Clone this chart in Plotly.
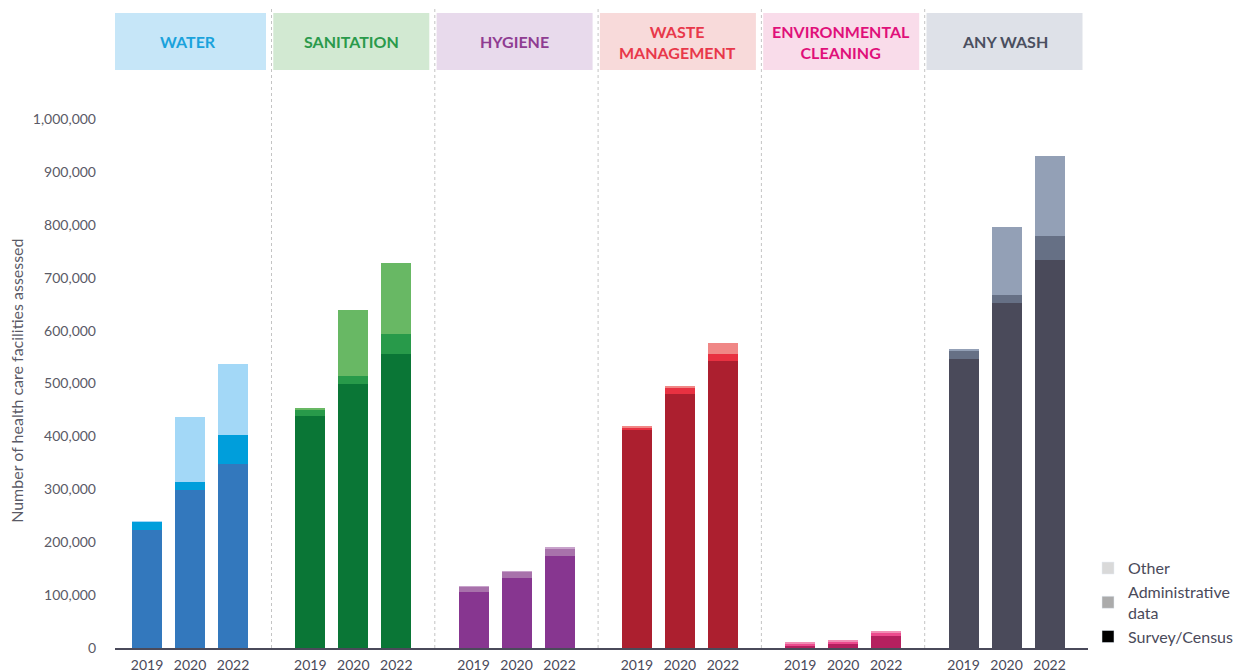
import plotly.graph_objects as go

categories = ["WATER", "SANITATION", "HYGIENE", "WASTE<br>MANAGEMENT", "ENVIRONMENTAL<br>CLEANING", "ANY WASH"]
years = ["2019", "2020", "2022"]

# values in number of facilities (segments, stacked bottom -> top)
survey = [
    [223000, 299000, 348000],
    [439000, 499000, 556000],
    [105000, 132000, 173000],
    [412000, 480000, 542000],
    [4000, 8000, 23000],
    [546000, 652000, 733000],
]
admin = [
    [16000, 15000, 55000],
    [11000, 15000, 38000],
    [11000, 12000, 14000],
    [5000, 11000, 14000],
    [4000, 5000, 7000],
    [17000, 15000, 45000],
]
other = [
    [1000, 123000, 134000],
    [2000, 125000, 134000],
    [1000, 1000, 4000],
    [3000, 4000, 21000],
    [2000, 2000, 2000],
    [1000, 128000, 153000],
]

y_ticks = [0, 100000, 200000, 300000, 400000, 500000, 600000, 700000, 800000, 900000, 1000000]

survey_colors = ["#3378BD", "#0A7636", "#873690", "#AC1F2F", "#B5205F", "#4A4A5A"]
admin_colors = ["#009EDB", "#289A4A", "#A872AB", "#E83141", "#EC4B8E", "#667085"]
other_colors = ["#A3D8F7", "#68B864", "#C8A2CB", "#F08786", "#F18EB5", "#93A0B6"]
header_fill = ["#C6E6F8", "#D2E9D2", "#E8DAEC", "#F8DADA", "#F9DCEA", "#DEE1E8"]
header_text = ["#1AA2DC", "#2A9A4B", "#8F3C92", "#E8384A", "#E0107A", "#4A4F5F"]

GS = 163.3   # group spacing
YS = 43      # year spacing
BW = 30      # bar width

xs, s_vals, a_vals, o_vals, sc, ac, oc = [], [], [], [], [], [], []
tickvals, ticktext = [], []
for g in range(len(categories)):
    for j, yr in enumerate(years):
        x = g * GS + (j - 1) * YS
        xs.append(x)
        s_vals.append(survey[g][j]); a_vals.append(admin[g][j]); o_vals.append(other[g][j])
        sc.append(survey_colors[g]); ac.append(admin_colors[g]); oc.append(other_colors[g])
        tickvals.append(x); ticktext.append(yr)

fig = go.Figure()
for vals, cols in [(s_vals, sc), (a_vals, ac), (o_vals, oc)]:
    fig.add_trace(go.Bar(x=xs, y=vals, width=BW, marker=dict(color=cols, line=dict(width=0)),
                         showlegend=False, hoverinfo="skip"))

# legend proxies
for name, col in [("Other", "#D9D9D9"), ("Administrative<br>data", "#ABABAB"), ("Survey/Census", "#000000")]:
    fig.add_trace(go.Bar(x=[None], y=[None], name=name, marker=dict(color=col), showlegend=True))

shapes = []
annotations = []
for g in range(len(categories)):
    c = g * GS - 2
    shapes.append(dict(type="rect", xref="x", yref="paper", x0=c - 78, x1=c + 78,
                       y0=1.0926, y1=1.2004, fillcolor=header_fill[g], line=dict(width=0), layer="below"))
    annotations.append(dict(x=c, y=1.1465, xref="x", yref="paper", text="<b>" + categories[g] + "</b>",
                            showarrow=False, font=dict(size=16, color=header_text[g], family="Lato"),
                            align="center", xanchor="center", yanchor="middle"))
    if g < len(categories) - 1:
        sx = g * GS + 81.5
        shapes.append(dict(type="line", xref="x", yref="paper", x0=sx, x1=sx, y0=0, y1=1.225,
                           line=dict(color="#C4C4C4", width=1, dash="dot"), layer="below"))

annotations.append(dict(x=-0.1007, y=0.505, xref="paper", yref="paper",
                        text="Number of health care facilities assessed", textangle=-90,
                        showarrow=False, font=dict(size=16, color="#5A5A66", family="Lato"),
                        xanchor="center", yanchor="middle"))

fig.update_layout(
    width=1239, height=664,
    margin=dict(l=107, r=159, t=111, b=24, autoexpand=False),
    paper_bgcolor="white", plot_bgcolor="white",
    barmode="stack",
    font=dict(family="Lato", color="#4A4A5A"),
    shapes=shapes, annotations=annotations,
    legend=dict(x=0.0, y=0.183, xanchor="left", yanchor="top", font=dict(size=16, color="#4A4A5A"),
                traceorder="normal", itemwidth=30, tracegroupgap=3),
    xaxis=dict(range=[-75, 898], tickvals=tickvals, ticktext=ticktext, showgrid=False, zeroline=False,
               showline=True, linecolor="#4A4A5A", linewidth=1.5, ticks="", automargin=False,
               ticklabelstandoff=3, tickfont=dict(size=14, color="#4A4A5A")),
    yaxis=dict(range=[0, 1000000], tickvals=y_ticks, tickformat=",", showgrid=False, zeroline=False,
               showline=False, ticks="", ticklabelstandoff=18, automargin=False,
               tickfont=dict(size=14, color="#5A5A66")),
    showlegend=True,
)
fig.update_layout(legend_x=1.0)

fig.write_html("out.html")
